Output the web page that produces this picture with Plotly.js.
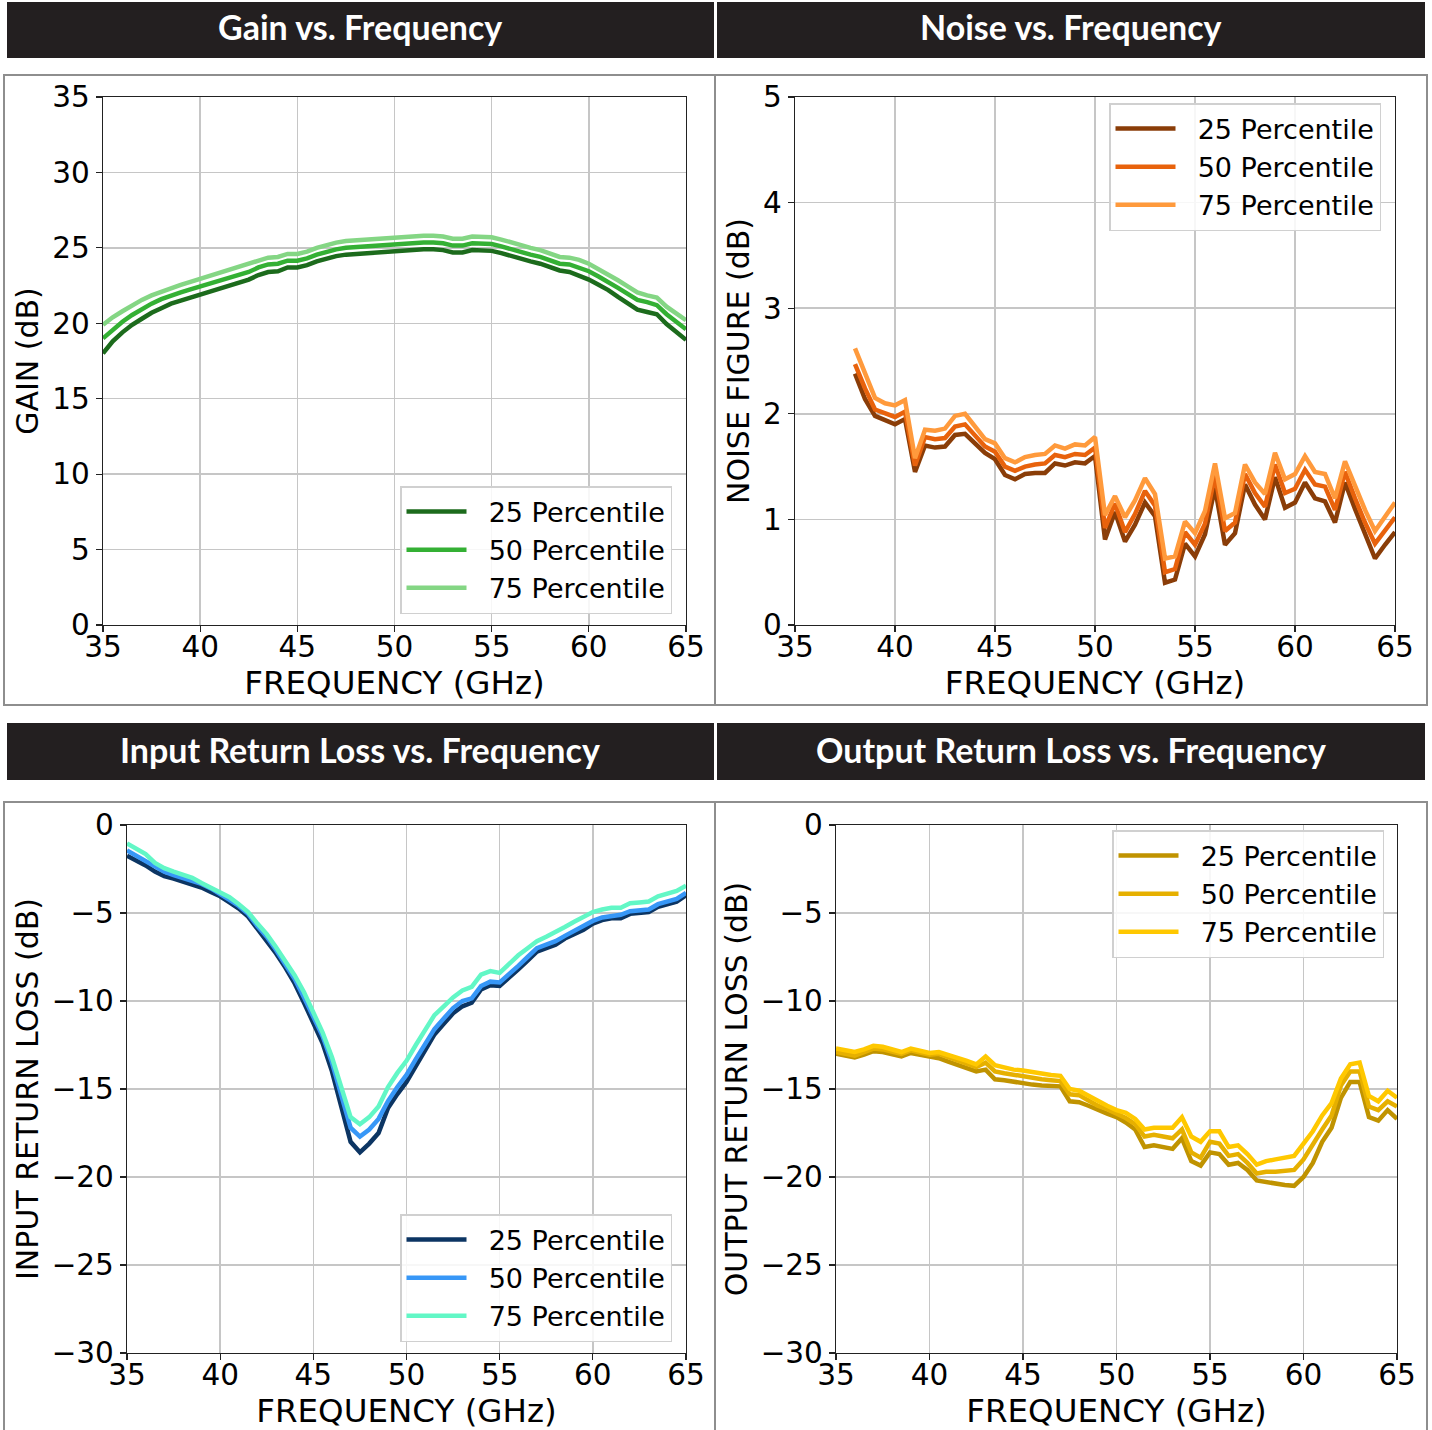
<!DOCTYPE html>
<html>
<head>
<meta charset="utf-8">
<script src="https://cdn.plot.ly/plotly-3.0.1.min.js"></script>
<style>
html,body{margin:0;padding:0;background:#ffffff;}
#chart{width:1432px;height:1430px;}
</style>
</head>
<body>
<div id="chart"></div>
<script>
// ---------- DATA ----------
const seriesNames = ['25 Percentile', '50 Percentile', '75 Percentile'];
const panelTitles = ['Gain vs. Frequency', 'Noise vs. Frequency', 'Input Return Loss vs. Frequency', 'Output Return Loss vs. Frequency'];

const freqGHz = [35,35.5,36,36.5,37,37.5,38,38.5,39,39.5,
  40,40.5,41,41.5,42,42.5,43,43.5,44,44.5,
  45,45.5,46,46.5,47,47.5,48,48.5,49,49.5,
  50,50.5,51,51.5,52,52.5,53,53.5,54,54.5,
  55,55.5,56,56.5,57,57.5,58,58.5,59,59.5,
  60,60.5,61,61.5,62,62.5,63,63.5,64,64.5,
  65];

const noiseFreqGHz = [38,38.5,39,39.5,
  40,40.5,41,41.5,42,42.5,43,43.5,44,44.5,
  45,45.5,46,46.5,47,47.5,48,48.5,49,49.5,
  50,50.5,51,51.5,52,52.5,53,53.5,54,54.5,
  55,55.5,56,56.5,57,57.5,58,58.5,59,59.5,
  60,60.5,61,61.5,62,62.5,63,63.5,64,64.5,
  65];

const gain25 = [18.0,18.8,19.4,19.9,20.3,20.7,21.0,21.3,21.5,21.7,
  21.9,22.1,22.3,22.5,22.7,22.9,23.2,23.4,23.45,23.7,
  23.7,23.85,24.1,24.3,24.45,24.55,24.6,24.65,24.7,24.75,
  24.8,24.8,24.9,24.9,24.9,24.85,24.7,24.7,24.85,24.85,
  24.8,24.65,24.45,24.3,24.1,23.95,23.75,23.5,23.4,23.15,
  22.9,22.55,22.2,21.75,21.3,20.9,20.75,20.6,19.95,19.45,
  18.9];
const gain50 = [19.0,19.6,20.1,20.55,20.95,21.3,21.6,21.85,22.05,22.25,
  22.45,22.6,22.8,23.0,23.2,23.4,23.7,23.9,23.95,24.15,
  24.15,24.3,24.55,24.75,24.9,25.0,25.05,25.1,25.15,25.2,
  25.25,25.25,25.35,25.35,25.35,25.3,25.15,25.15,25.3,25.3,
  25.25,25.1,24.9,24.75,24.55,24.4,24.2,23.95,23.9,23.7,
  23.45,23.1,22.75,22.35,21.95,21.55,21.4,21.2,20.6,20.1,
  19.6];
const gain75 = [19.9,20.4,20.8,21.2,21.55,21.85,22.1,22.35,22.55,22.75,
  22.95,23.1,23.3,23.5,23.7,23.9,24.15,24.35,24.4,24.6,
  24.6,24.75,25.0,25.2,25.35,25.45,25.5,25.55,25.6,25.65,
  25.7,25.7,25.8,25.8,25.8,25.75,25.6,25.6,25.75,25.75,
  25.7,25.55,25.35,25.2,25.0,24.85,24.65,24.4,24.35,24.2,
  23.95,23.6,23.25,22.85,22.45,22.05,21.85,21.7,21.1,20.65,
  20.2];

const noise25 = [2.38,2.14,1.98,1.94,
  1.9,1.95,1.45,1.70,1.68,1.69,1.80,1.81,1.72,1.63,
  1.57,1.42,1.38,1.43,1.44,1.44,1.53,1.51,1.54,1.53,
  1.6,0.81,1.07,0.79,0.95,1.16,1.03,0.4,0.43,0.77,
  0.65,0.86,1.3,0.76,0.87,1.33,1.14,1.0,1.4,1.11,
  1.16,1.35,1.2,1.17,0.97,1.35,1.1,0.87,0.63,0.76,
  0.88];
const noise50 = [2.47,2.24,2.04,2.0,
  1.97,2.02,1.51,1.78,1.76,1.77,1.88,1.9,1.8,1.69,
  1.64,1.5,1.46,1.5,1.52,1.53,1.61,1.59,1.62,1.61,
  1.68,0.92,1.15,0.88,1.05,1.27,1.13,0.5,0.53,0.88,
  0.76,0.96,1.42,0.89,0.97,1.43,1.25,1.12,1.52,1.25,
  1.29,1.47,1.33,1.31,1.09,1.45,1.2,0.97,0.77,0.9,
  1.02];
const noise75 = [2.62,2.38,2.15,2.1,
  2.08,2.13,1.58,1.85,1.84,1.86,1.98,2.0,1.88,1.76,
  1.72,1.58,1.54,1.59,1.61,1.62,1.7,1.67,1.71,1.7,
  1.78,1.04,1.22,1.02,1.18,1.39,1.24,0.63,0.65,0.98,
  0.87,1.08,1.53,1.01,1.06,1.52,1.35,1.24,1.63,1.38,
  1.43,1.6,1.45,1.43,1.2,1.55,1.32,1.09,0.89,1.03,
  1.16];

const irl25 = [-1.75,-2.0,-2.3,-2.65,-2.9,-3.05,-3.2,-3.35,-3.55,-3.8,
  -4.05,-4.4,-4.75,-5.2,-5.9,-6.5,-7.3,-8.1,-9.0,-10.1,
  -11.2,-12.4,-14.0,-15.9,-18.0,-18.6,-18.1,-17.5,-16.1,-15.3,
  -14.6,-13.7,-12.8,-11.9,-11.3,-10.7,-10.3,-10.1,-9.35,-9.1,
  -9.15,-8.7,-8.2,-7.7,-7.2,-7.0,-6.8,-6.45,-6.2,-5.95,
  -5.6,-5.4,-5.3,-5.3,-5.05,-5.0,-4.95,-4.65,-4.5,-4.35,
  -4.0];
const irl50 = [-1.45,-1.75,-2.05,-2.4,-2.65,-2.85,-3.0,-3.15,-3.35,-3.6,
  -3.9,-4.25,-4.6,-5.05,-5.75,-6.35,-7.1,-7.9,-8.75,-9.8,
  -10.9,-12.0,-13.5,-15.3,-17.2,-17.7,-17.3,-16.7,-15.7,-14.9,
  -14.2,-13.3,-12.4,-11.6,-11.0,-10.4,-10.0,-9.85,-9.15,-8.9,
  -8.95,-8.5,-8.0,-7.5,-7.0,-6.8,-6.6,-6.3,-6.0,-5.75,
  -5.45,-5.25,-5.15,-5.1,-4.9,-4.85,-4.8,-4.5,-4.35,-4.2,
  -3.85];
const irl75 = [-1.05,-1.35,-1.65,-2.15,-2.45,-2.65,-2.85,-3.0,-3.3,-3.55,
  -3.8,-4.1,-4.5,-4.95,-5.6,-6.2,-6.95,-7.7,-8.55,-9.5,
  -10.6,-11.8,-13.2,-14.9,-16.6,-17.0,-16.6,-16.0,-14.9,-14.1,
  -13.4,-12.5,-11.6,-10.8,-10.3,-9.8,-9.4,-9.2,-8.5,-8.3,
  -8.4,-7.9,-7.4,-7.0,-6.6,-6.35,-6.1,-5.8,-5.5,-5.2,
  -4.95,-4.8,-4.7,-4.7,-4.45,-4.4,-4.35,-4.05,-3.9,-3.75,
  -3.45];

const orl25 = [-13.0,-13.1,-13.2,-13.05,-12.85,-12.9,-13.0,-13.15,-12.95,-13.05,
  -13.2,-13.25,-13.45,-13.65,-13.85,-14.0,-13.9,-14.45,-14.5,-14.6,
  -14.65,-14.75,-14.8,-14.85,-14.85,-15.7,-15.75,-15.95,-16.2,-16.4,
  -16.6,-16.9,-17.3,-18.3,-18.2,-18.3,-18.4,-17.8,-19.1,-19.35,
  -18.6,-18.7,-19.3,-19.2,-19.6,-20.2,-20.3,-20.4,-20.45,-20.5,
  -20.0,-19.2,-18.0,-17.2,-15.5,-14.6,-14.6,-16.6,-16.8,-16.2,
  -16.7];
const orl50 = [-12.9,-13.0,-13.1,-12.9,-12.7,-12.75,-12.85,-13.0,-12.8,-12.9,
  -13.05,-13.0,-13.2,-13.35,-13.55,-13.75,-13.5,-14.0,-14.1,-14.2,
  -14.25,-14.35,-14.45,-14.5,-14.55,-15.3,-15.35,-15.65,-15.95,-16.15,
  -16.4,-16.65,-17.0,-17.7,-17.6,-17.7,-17.8,-17.3,-18.6,-18.9,
  -18.0,-18.1,-18.8,-18.7,-19.2,-19.8,-19.7,-19.7,-19.65,-19.6,
  -19.0,-18.1,-17.3,-16.5,-14.8,-14.0,-14.0,-16.0,-16.2,-15.7,
  -16.0];
const orl75 = [-12.7,-12.8,-12.9,-12.75,-12.55,-12.6,-12.75,-12.9,-12.7,-12.8,
  -12.95,-12.9,-13.05,-13.2,-13.4,-13.6,-13.15,-13.65,-13.8,-13.9,
  -13.95,-14.05,-14.1,-14.2,-14.25,-15.0,-15.1,-15.4,-15.7,-15.95,
  -16.2,-16.35,-16.7,-17.3,-17.2,-17.2,-17.2,-16.6,-17.7,-18.0,
  -17.4,-17.4,-18.3,-18.2,-18.7,-19.3,-19.1,-19.0,-18.9,-18.8,
  -18.1,-17.4,-16.5,-15.8,-14.4,-13.6,-13.5,-15.4,-15.7,-15.1,
  -15.5];

// ---------- STYLE / LAYOUT ----------
const W = 1432, H = 1430;
const px = v => v / W;
const py = v => 1 - v / H;

const gainColors  = ['#1c6b1c', '#34b034', '#84d684'];
const noiseColors = ['#8a3d08', '#e8620c', '#ff9a3c'];
const irlColors   = ['#0c3563', '#3797f7', '#62f7c6'];
const orlColors   = ['#c09300', '#e6b000', '#ffc800'];

const tickFont = {family: 'DejaVu Sans', size: 29.5, color: '#000'};
const xTitleFont = {family: 'DejaVu Sans', size: 32.5, color: '#000'};
const yTitleFont = {family: 'DejaVu Sans', size: 30, color: '#000'};

function baseAxis(extra) {
  return Object.assign({
    showline: true, mirror: true, linecolor: '#222', linewidth: 1.2,
    ticks: 'outside', ticklen: 6, tickwidth: 1.2, tickcolor: '#222',
    showgrid: true, gridcolor: '#c6c6c6', gridwidth: 1.5,
    zeroline: false, tickfont: tickFont, fixedrange: true, automargin: false
  }, extra);
}
function xAxis(l, r, anchor) {
  return baseAxis({domain: [px(l), px(r)], range: [35, 65], tick0: 35, dtick: 5, anchor: anchor,
    ticklabelstandoff: -11,
    title: {text: 'FREQUENCY (GHz)', font: xTitleFont, standoff: 1}});
}
function yAxis(t, b, anchor, range, dtick, title) {
  return baseAxis({domain: [py(b), py(t)], range: range, tick0: range[0], dtick: dtick, anchor: anchor,
    title: {text: title, font: yTitleFont, standoff: 4}});
}

// legend labels: a small lead-in gap between the sample line and the text
const legendGap = '\u00a0\u00a0';
function makeTraces(x, ys, colors, xa, ya, legendId) {
  return ys.map((y, i) => ({
    x: x, y: y, type: 'scatter', mode: 'lines', name: legendGap + seriesNames[i],
    line: {color: colors[i], width: 4.5}, xaxis: xa, yaxis: ya, legend: legendId,
    hoverinfo: 'skip'
  }));
}

const data = [].concat(
  makeTraces(freqGHz, [gain25, gain50, gain75], gainColors, 'x', 'y', 'legend'),
  makeTraces(noiseFreqGHz, [noise25, noise50, noise75], noiseColors, 'x2', 'y2', 'legend2'),
  makeTraces(freqGHz, [irl25, irl50, irl75], irlColors, 'x3', 'y3', 'legend3'),
  makeTraces(freqGHz, [orl25, orl50, orl75], orlColors, 'x4', 'y4', 'legend4')
);

function legendAt(xr, yv, yanchor) {
  return {x: px(xr), y: py(yv), xanchor: 'right', yanchor: yanchor, xref: 'paper', yref: 'paper',
    bgcolor: 'rgba(255,255,255,0.85)', bordercolor: '#d0d0d0', borderwidth: 1.5,
    itemwidth: 60,
    font: {family: 'DejaVu Sans', size: 27, color: '#000'}, tracegroupgap: 0};
}

function rect(x0, y0, x1, y1, fill, lineColor, lw) {
  return {type: 'rect', xref: 'paper', yref: 'paper', x0: px(x0), x1: px(x1), y0: py(y1), y1: py(y0),
    fillcolor: fill, line: {color: lineColor, width: lw}, layer: 'below'};
}

const shapes = [
  rect(7, 2, 714, 58, '#231f20', 'rgba(0,0,0,0)', 0),
  rect(717, 2, 1425, 58, '#231f20', 'rgba(0,0,0,0)', 0),
  rect(7, 723, 714, 780, '#231f20', 'rgba(0,0,0,0)', 0),
  rect(717, 723, 1425, 780, '#231f20', 'rgba(0,0,0,0)', 0),
  rect(4, 75, 715, 705, 'rgba(0,0,0,0)', '#8e8e8e', 2),
  rect(715, 75, 1427, 705, 'rgba(0,0,0,0)', '#8e8e8e', 2),
  rect(4, 802, 715, 1440, 'rgba(0,0,0,0)', '#8e8e8e', 2),
  rect(715, 802, 1427, 1440, 'rgba(0,0,0,0)', '#8e8e8e', 2)
];

const titleFont = {family: 'Lato', size: 34, color: '#ffffff', weight: 700};
const titlePos = [[360, 27], [1071, 27], [360, 749], [1071, 749]];
const annotations = panelTitles.map((t, i) => ({
  text: t, xref: 'paper', yref: 'paper', x: px(titlePos[i][0]), y: py(titlePos[i][1]),
  xanchor: 'center', yanchor: 'middle', showarrow: false, font: titleFont
}));

const layout = {
  width: W, height: H,
  margin: {l: 0, r: 0, t: 0, b: 0},
  paper_bgcolor: '#ffffff', plot_bgcolor: '#ffffff',
  showlegend: true,
  xaxis:  xAxis(103, 686, 'y'),
  yaxis:  yAxis(97, 625, 'x', [0, 35], 5, 'GAIN (dB)'),
  xaxis2: xAxis(795, 1395, 'y2'),
  yaxis2: yAxis(97, 625, 'x2', [0, 5], 1, 'NOISE FIGURE (dB)'),
  xaxis3: xAxis(127, 686, 'y3'),
  yaxis3: yAxis(825, 1353, 'x3', [-30, 0], 5, 'INPUT RETURN LOSS (dB)'),
  xaxis4: xAxis(836, 1397, 'y4'),
  yaxis4: yAxis(825, 1353, 'x4', [-30, 0], 5, 'OUTPUT RETURN LOSS (dB)'),
  legend:  legendAt(672, 614, 'bottom'),
  legend2: legendAt(1381, 103, 'top'),
  legend3: legendAt(672, 1342, 'bottom'),
  legend4: legendAt(1384, 830, 'top'),
  shapes: shapes,
  annotations: annotations
};

Plotly.newPlot('chart', data, layout, {staticPlot: true, displayModeBar: false});
</script>
</body>
</html>
